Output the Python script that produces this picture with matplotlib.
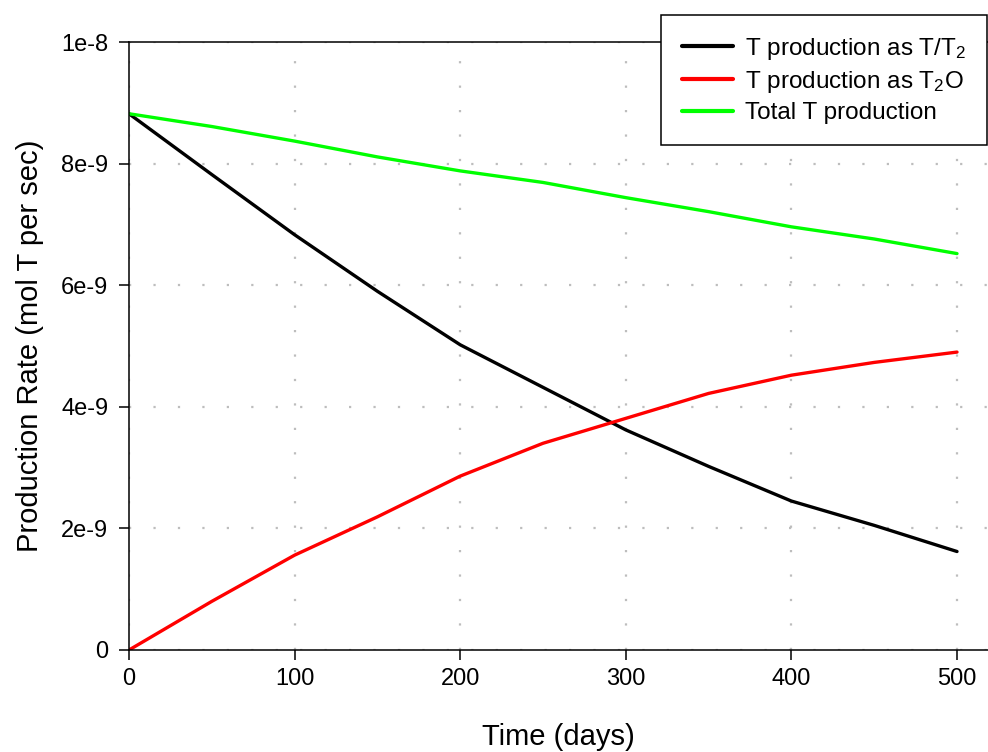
"""
Tritium production rate vs time, split into T/T2 and T2O.
"""

import matplotlib
matplotlib.use("Agg")
import matplotlib.pyplot as plt

plt.rcParams["font.family"] = ["Liberation Sans", "DejaVu Sans"]
plt.rcParams["mathtext.fontset"] = "custom"
plt.rcParams["mathtext.rm"] = "Liberation Sans"
plt.rcParams["mathtext.it"] = "Liberation Sans"
plt.rcParams["mathtext.bf"] = "Liberation Sans"

# Data (rates in units of 1e-9 mol T / s)
days = [0, 50, 100, 150, 200, 250, 300, 350, 400, 450, 500]
t_t2 = [8.82, 7.82, 6.83, 5.90, 5.02, 4.32, 3.62, 3.02, 2.45, 2.05, 1.62]
t_t2o = [0.0, 0.80, 1.56, 2.19, 2.86, 3.40, 3.81, 4.22, 4.52, 4.73, 4.90]
t_total = [8.82, 8.61, 8.37, 8.11, 7.88, 7.69, 7.44, 7.21, 6.96, 6.76, 6.52]

x_ticks = [0, 100, 200, 300, 400, 500]
y_ticks = [0, 2e-9, 4e-9, 6e-9, 8e-9, 1e-8]
y_tick_labels = ["0", "2e-9", "4e-9", "6e-9", "8e-9", "1e-8"]

labels = [r"T production as T/T$_{2}$",
          r"T production as T$_{2}$O",
          "Total T production"]
colors = ["black", "#ff0000", "#00ff00"]

W, H = 988, 752
fig = plt.figure(figsize=(W / 100, H / 100), dpi=100)
x0, x1, y0, y1 = 129, 988, 42, 650
ax = fig.add_axes([x0 / W, 1 - y1 / H, (x1 - x0) / W, (y1 - y0) / H])

scale = 1e-9
for series, lab, col in zip([t_t2, t_t2o, t_total], labels, colors):
    ax.plot(days, [v * scale for v in series], color=col, lw=2.4,
            label=lab, solid_capstyle="round")

px_per_day = (957 - 129) / 500
ax.set_xlim(0, (x1 - x0) / px_per_day)
ax.set_ylim(0, 1e-8)
ax.set_xticks(x_ticks)
ax.set_yticks(y_ticks)
ax.set_yticklabels(y_tick_labels)

ax.grid(True, color="#bdbdbd", lw=1.6, linestyle=(0, (1, 10)))
ax.set_axisbelow(True)
ax.spines["right"].set_visible(False)
for s in ["left", "bottom", "top"]:
    ax.spines[s].set_linewidth(1.1)

ax.tick_params(axis="both", direction="out", length=7, width=1.1,
               labelsize=17)
ax.tick_params(axis="y", pad=8)
ax.tick_params(axis="x", pad=6)

ax.set_xlabel("Time (days)", fontsize=21, labelpad=24)
ax.set_ylabel("Production Rate (mol T per sec)", fontsize=21, labelpad=12)

leg = ax.legend(loc="upper right", bbox_to_anchor=(987 / W, 1 - 15 / H),
                bbox_transform=fig.transFigure, fontsize=17.5,
                frameon=True, fancybox=False, framealpha=1,
                edgecolor="black", handlelength=2.1, handletextpad=0.5,
                labelspacing=0.3, borderpad=0.85, borderaxespad=0)
leg.get_frame().set_linewidth(1.1)
for line in leg.get_lines():
    line.set_linewidth(3)

fig.savefig("out.png", dpi=100)
